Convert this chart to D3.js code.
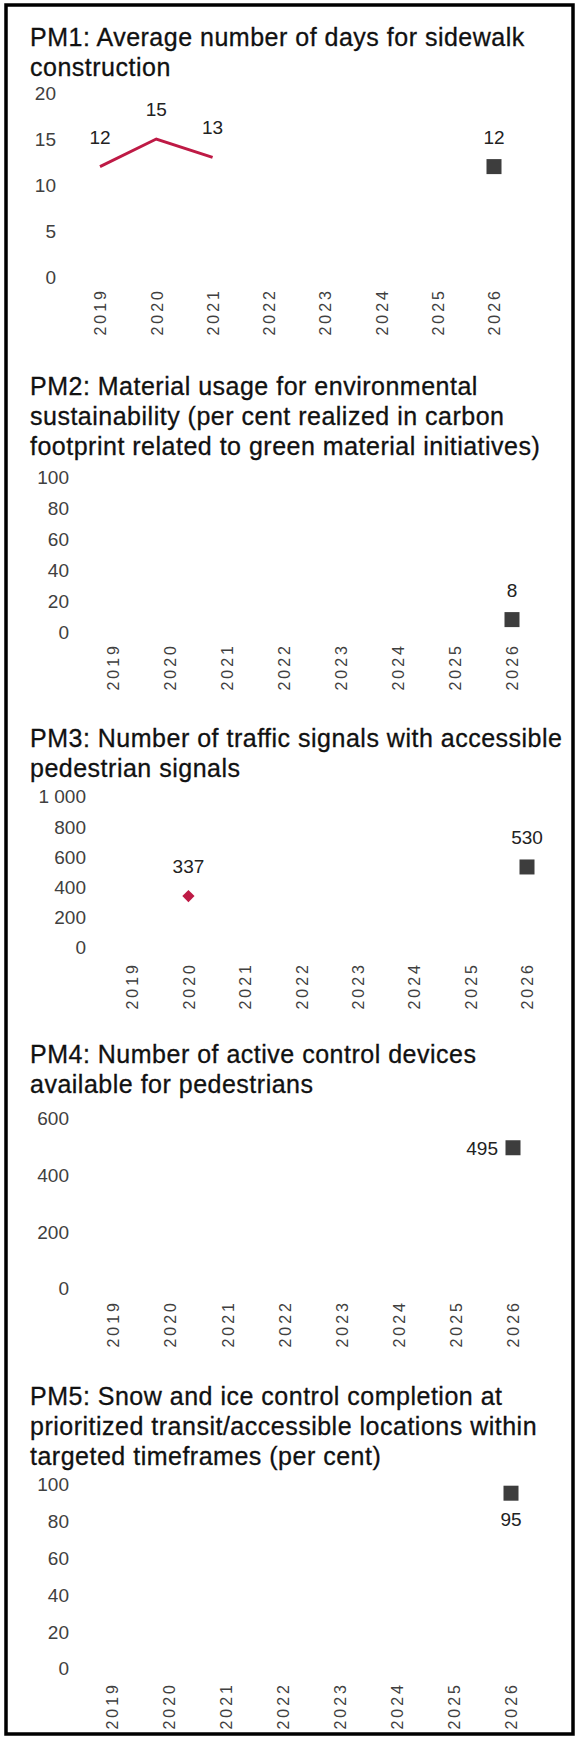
<!DOCTYPE html>
<html>
<head>
<meta charset="utf-8">
<script src="https://cdn.jsdelivr.net/npm/d3@7"></script>
<style>
  html, body { margin: 0; padding: 0; background: #ffffff; }
  svg { display: block; }
</style>
</head>
<body>
<svg id="chart" width="583" height="1739"></svg>
<script>
// ---------------- DATA ----------------
const years = ["2019", "2020", "2021", "2022", "2023", "2024", "2025", "2026"];
const targetYear = "2026";

const pm1Title = ["PM1: Average number of days for sidewalk", "construction"];
const pm1Years = ["2019", "2020", "2021"];
const pm1Values = [12, 15, 13];
const pm1Target = 12;
const pm1Ticks = [0, 5, 10, 15, 20];

const pm2Title = ["PM2: Material usage for environmental",
                  "sustainability (per cent realized in carbon",
                  "footprint related to green material initiatives)"];
const pm2Years = [];
const pm2Values = [];
const pm2Target = 8;
const pm2Ticks = [0, 20, 40, 60, 80, 100];

const pm3Title = ["PM3: Number of traffic signals with accessible", "pedestrian signals"];
const pm3Years = ["2020"];
const pm3Values = [337];
const pm3Target = 530;
const pm3Ticks = [0, 200, 400, 600, 800, 1000];

const pm4Title = ["PM4: Number of active control devices", "available for pedestrians"];
const pm4Years = [];
const pm4Values = [];
const pm4Target = 495;
const pm4Ticks = [0, 200, 400, 600];

const pm5Title = ["PM5: Snow and ice control completion at",
                  "prioritized transit/accessible locations within",
                  "targeted timeframes (per cent)"];
const pm5Years = [];
const pm5Values = [];
const pm5Target = 95;
const pm5Ticks = [0, 20, 40, 60, 80, 100];

// ---------------- STYLE / LAYOUT ----------------
const FONT = "'Liberation Sans', Arial, Helvetica, sans-serif";
const RED = "#be1a45";
const SQUARE = "#3d3d3d";
const locale = d3.formatLocale({ decimal: ",", thousands: " ", grouping: [3], currency: ["", ""] });
const fmtTick = locale.format(",");

const panels = [
  { title: pm1Title, titleY: 46, years: pm1Years, values: pm1Values, target: pm1Target, ticks: pm1Ticks,
    axisX: 56, x0: 100, x1: 494, y0: 277, y1: 93, labelTop: 288, actualMark: "line", targetLabel: "above" },
  { title: pm2Title, titleY: 395, years: pm2Years, values: pm2Values, target: pm2Target, ticks: pm2Ticks,
    axisX: 69, x0: 113, x1: 512, y0: 632, y1: 477, labelTop: 643, actualMark: "line", targetLabel: "above" },
  { title: pm3Title, titleY: 747, years: pm3Years, values: pm3Values, target: pm3Target, ticks: pm3Ticks,
    axisX: 86, x0: 132, x1: 527, y0: 947, y1: 796, labelTop: 962, actualMark: "diamond", targetLabel: "above" },
  { title: pm4Title, titleY: 1063, years: pm4Years, values: pm4Values, target: pm4Target, ticks: pm4Ticks,
    axisX: 69, x0: 113, x1: 513, y0: 1288, y1: 1118, labelTop: 1300, actualMark: "line", targetLabel: "left" },
  { title: pm5Title, titleY: 1405, years: pm5Years, values: pm5Values, target: pm5Target, ticks: pm5Ticks,
    axisX: 69, x0: 112, x1: 511, y0: 1668, y1: 1484, labelTop: 1682, actualMark: "line", targetLabel: "below" }
];

const svg = d3.select("#chart");

svg.append("rect")
  .attr("x", 6).attr("y", 5)
  .attr("width", 567).attr("height", 1729)
  .attr("fill", "#ffffff")
  .attr("stroke", "#000000")
  .attr("stroke-width", 3.5);

panels.forEach(p => {
  const g = svg.append("g");

  // title
  const t = g.append("text")
    .attr("font-family", FONT)
    .attr("font-size", 25)
    .attr("letter-spacing", 0.5)
    .attr("fill", "#111111")
    .attr("stroke", "#111111")
    .attr("stroke-width", 0.3);
  p.title.forEach((line, i) => {
    t.append("tspan").attr("x", 30).attr("y", p.titleY + i * 30).text(line);
  });

  const x = d3.scalePoint().domain(years).range([p.x0, p.x1]);
  const yMax = p.ticks[p.ticks.length - 1];
  const y = d3.scaleLinear().domain([0, yMax]).range([p.y0, p.y1]);

  // y axis (labels only)
  const ya = g.append("g")
    .attr("transform", `translate(${p.axisX},0)`)
    .call(d3.axisLeft(y).tickValues(p.ticks).tickSize(0).tickPadding(0).tickFormat(fmtTick));
  ya.select(".domain").remove();
  ya.selectAll("text")
    .attr("font-family", FONT)
    .attr("font-size", 19)
    .attr("fill", "#404040")
    .attr("dy", "0.36em");

  // x axis (rotated year labels)
  const xa = g.append("g")
    .attr("transform", `translate(0,${p.labelTop})`)
    .call(d3.axisBottom(x).tickSize(0).tickPadding(0));
  xa.select(".domain").remove();
  xa.selectAll("text")
    .attr("font-family", FONT)
    .attr("font-size", 16)
    .attr("letter-spacing", 3)
    .attr("fill", "#404040")
    .attr("x", 0).attr("y", 0)
    .attr("dy", "0.36em")
    .attr("text-anchor", "end")
    .attr("transform", "rotate(-90)");

  // actual values
  const pts = p.years.map((yr, i) => ({ year: yr, value: p.values[i] }));
  if (pts.length) {
    if (p.actualMark === "line") {
      g.append("path")
        .datum(pts)
        .attr("fill", "none")
        .attr("stroke", RED)
        .attr("stroke-width", 3)
        .attr("stroke-linejoin", "miter")
        .attr("d", d3.line().x(d => x(d.year)).y(d => y(d.value)));
    } else {
      g.selectAll("path.diamond")
        .data(pts).enter().append("path")
        .attr("class", "diamond")
        .attr("fill", RED)
        .attr("transform", d => `translate(${x(d.year)},${y(d.value)})`)
        .attr("d", d3.symbol().type(d3.symbolDiamond2).size(95)());
    }
    g.selectAll("text.val")
      .data(pts).enter().append("text")
      .attr("class", "val")
      .attr("font-family", FONT)
      .attr("font-size", 19)
      .attr("fill", "#222222")
      .attr("text-anchor", "middle")
      .attr("x", d => x(d.year))
      .attr("y", d => y(d.value) - 23)
      .text(d => d.value);
  }

  // target square
  const tx = x(targetYear), ty = y(p.target);
  const sq = 15;
  g.append("rect")
    .attr("x", tx - sq / 2).attr("y", ty - sq / 2)
    .attr("width", sq).attr("height", sq)
    .attr("fill", SQUARE);

  const lbl = g.append("text")
    .attr("font-family", FONT)
    .attr("font-size", 19)
    .attr("fill", "#222222")
    .text(p.target);
  if (p.targetLabel === "above") {
    lbl.attr("text-anchor", "middle").attr("x", tx).attr("y", ty - 23);
  } else if (p.targetLabel === "below") {
    lbl.attr("text-anchor", "middle").attr("x", tx).attr("y", ty + 33);
  } else {
    lbl.attr("text-anchor", "end").attr("x", tx - 15).attr("y", ty).attr("dy", "0.36em");
  }
});
</script>
</body>
</html>
